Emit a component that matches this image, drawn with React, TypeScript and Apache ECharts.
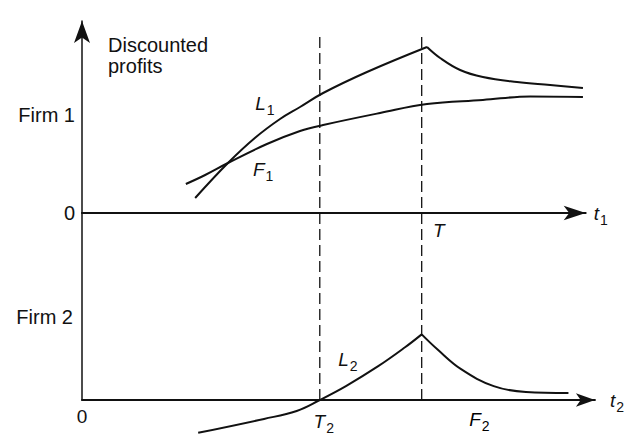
import React, { useEffect, useRef } from "react";
import * as echarts from "echarts";

// Key dates on the time axis
const T2 = 7;
const T = 10;
const tMaxUpper = 14.6;
const tMaxLower = 15.1;
const dashTop = 36.6; // height of the dashed guides, in firm-2 units

// Firm 1: discounted profits as leader (L1) and as follower (F1), [t, value]
const leader1Rise: [number, number][] = [
  [3.28, 1.5], [4.23, 5.0], [5.01, 7.5], [5.74, 9.4], [6.32, 10.6],
  [6.99, 12.0], [8.26, 14.1], [10, 16.6],
];
const leader1Fall: [number, number][] = [
  [10, 16.6], [10.38, 15.5], [10.96, 14.3], [11.62, 13.6], [12.61, 13.1],
  [13.57, 12.8], [14.52, 12.5],
];
const follower1: [number, number][] = [
  [3.01, 2.9], [3.57, 3.8], [4.23, 5.0], [5.36, 6.9], [6.32, 8.2],
  [6.99, 8.8], [8.64, 10.0], [10, 10.9], [11.62, 11.3], [12.99, 11.65],
  [14.52, 11.6],
];

// Firm 2: leader payoff up to T, follower payoff after it
const leader2: [number, number][] = [
  [3.42, -3.3], [5.36, -1.9], [6.32, -1.1], [7, 0], [7.77, 1.4],
  [8.72, 3.4], [9.51, 5.3], [10, 6.6],
];
const follower2: [number, number][] = [
  [10, 6.6], [10.46, 5.1], [11.16, 3.1], [12.12, 1.4], [13.07, 0.8],
  [14.32, 0.7],
];

// Axis texts
const firm1Label = "Firm 1";
const firm2Label = "Firm 2";
const firm1Tick = 9.8;
const firm2Tick = 8.3;
const zeroLabel = "0";
const titleLines = ["Discounted", "profits"];

// Where the curve names sit, in each panel's own units
const labelL1: [number, number] = [5.3, 11.0];
const labelF1: [number, number] = [5.25, 4.4];
const labelL2: [number, number] = [7.83, 4.1];
const labelF2: [number, number] = [11.7, -1.95];

const FONT = '"Liberation Sans", Arial, Helvetica, sans-serif';
const INK = "#111";
const PX_T = 34.5; // pixels per time unit

const rich = {
  i: { fontFamily: FONT, fontStyle: "italic", fontSize: 19, color: INK, lineHeight: 22 },
  s: { fontFamily: FONT, fontSize: 14, color: INK, padding: [14, 0, 0, 1] },
};
const sym = (base: string, sub: string) => `{i|${base}}{s|${sub}}`;

const curveLabel = (text: string, coord: [number, number]) => ({
  symbol: "circle",
  symbolSize: 1,
  silent: true,
  itemStyle: { color: "rgba(0,0,0,0)" },
  label: { show: true, position: "inside", formatter: text, rich },
  data: [{ coord }],
});

const near = (a: number, b: number) => Math.abs(a - b) < 1e-6;

export default function App() {
  const ref = useRef<HTMLDivElement>(null);

  useEffect(() => {
    if (!ref.current) return;
    const chart = echarts.init(ref.current, null, { renderer: "svg" });

    const curve = { type: "line", smooth: 0.4, symbol: "none", lineStyle: { color: INK, width: 2 }, silent: true };
    const axisName = { rich };

    chart.setOption({
      animation: false,
      backgroundColor: "#fff",
      grid: [
        { left: 82, top: 21, width: tMaxUpper * PX_T, height: 192 },
        { left: 82, top: 213, width: tMaxLower * PX_T, height: 188 },
      ],
      xAxis: [
        {
          gridIndex: 0, type: "value", min: 0, max: tMaxUpper, interval: T,
          axisLine: { lineStyle: { color: INK, width: 2 }, symbol: ["none", "arrow"], symbolSize: [11, 22] },
          axisTick: { show: false }, splitLine: { show: false },
          axisLabel: {
            margin: 6, align: "left", padding: [0, 0, 0, 6], rich,
            formatter: (v: number) => (near(v, T) ? `{i|T}` : ""),
          },
          name: sym("t", "1"), nameLocation: "end", nameGap: 8, nameTextStyle: axisName,
        },
        {
          gridIndex: 1, type: "value", min: 0, max: tMaxLower, interval: T2,
          axisLine: { lineStyle: { color: INK, width: 2 }, symbol: ["none", "arrow"], symbolSize: [10, 19] },
          axisTick: { show: false }, splitLine: { show: false },
          axisLabel: {
            margin: 7, fontFamily: FONT, fontSize: 19, color: INK,
            rich: { ...rich, i: { ...rich.i, padding: [0, 0, 0, 8] } },
            formatter: (v: number) => (near(v, 0) ? zeroLabel : near(v, T2) ? sym("T", "2") : ""),
          },
          name: sym("t", "2"), nameLocation: "end", nameGap: 15, nameTextStyle: axisName,
        },
      ],
      yAxis: [
        {
          gridIndex: 0, type: "value", min: 0, max: 19.2, interval: firm1Tick,
          axisLine: { lineStyle: { color: INK, width: 1.5 }, symbol: ["none", "arrow"], symbolSize: [12, 22] },
          axisTick: { show: false }, splitLine: { show: false },
          axisLabel: {
            margin: 7, fontFamily: FONT, fontSize: 20, color: INK,
            formatter: (v: number) => (near(v, 0) ? zeroLabel : near(v, firm1Tick) ? firm1Label : ""),
          },
        },
        {
          gridIndex: 1, type: "value", min: 0, max: 18.8, interval: firm2Tick,
          axisLine: { lineStyle: { color: INK, width: 1.5 } },
          axisTick: { show: false }, splitLine: { show: false },
          axisLabel: {
            margin: 9, fontFamily: FONT, fontSize: 20, color: INK,
            formatter: (v: number) => (near(v, firm2Tick) ? firm2Label : ""),
          },
        },
      ],
      graphic: [
        {
          id: "title", type: "text", left: 108, top: 34, silent: true,
          style: { text: titleLines.join("\n"), font: `20px ${FONT}`, fill: INK, lineHeight: 21 },
        },
      ],
      series: [
        { ...curve, name: "L1", xAxisIndex: 0, yAxisIndex: 0, data: leader1Rise, markPoint: curveLabel(sym("L", "1"), labelL1) },
        { ...curve, name: "L1 after T", xAxisIndex: 0, yAxisIndex: 0, data: leader1Fall },
        { ...curve, name: "F1", xAxisIndex: 0, yAxisIndex: 0, data: follower1, markPoint: curveLabel(sym("F", "1"), labelF1) },
        { ...curve, name: "L2", xAxisIndex: 1, yAxisIndex: 1, clip: false, data: leader2, markPoint: curveLabel(sym("L", "2"), labelL2) },
        { ...curve, name: "F2", xAxisIndex: 1, yAxisIndex: 1, clip: false, data: follower2 },
        {
          type: "line", name: "T2 guide", xAxisIndex: 1, yAxisIndex: 1, clip: false, symbol: "none", silent: true,
          lineStyle: { color: INK, width: 1.3, type: [11, 5] }, data: [[T2, 0], [T2, dashTop]],
        },
        {
          type: "line", name: "T guide", xAxisIndex: 1, yAxisIndex: 1, clip: false, symbol: "none", silent: true,
          lineStyle: { color: INK, width: 1.3, type: [11, 5] }, data: [[T, 0], [T, dashTop]],
        },
      ],
    });

    // F2 sits below the time axis, outside the panel, so place it from the axis scales
    const [fx, fy] = chart.convertToPixel({ xAxisIndex: 1, yAxisIndex: 1 }, labelF2) as number[];
    chart.setOption({
      graphic: [
        {
          id: "f2", type: "text", x: fx, y: fy, silent: true,
          style: { text: sym("F", "2"), rich, align: "center", verticalAlign: "middle" },
        },
      ],
    });

    return () => chart.dispose();
  }, []);

  return (
    <div
      ref={ref}
      style={{ position: "absolute", left: 0, top: 0, width: 625, height: 435, background: "#fff" }}
    />
  );
}
